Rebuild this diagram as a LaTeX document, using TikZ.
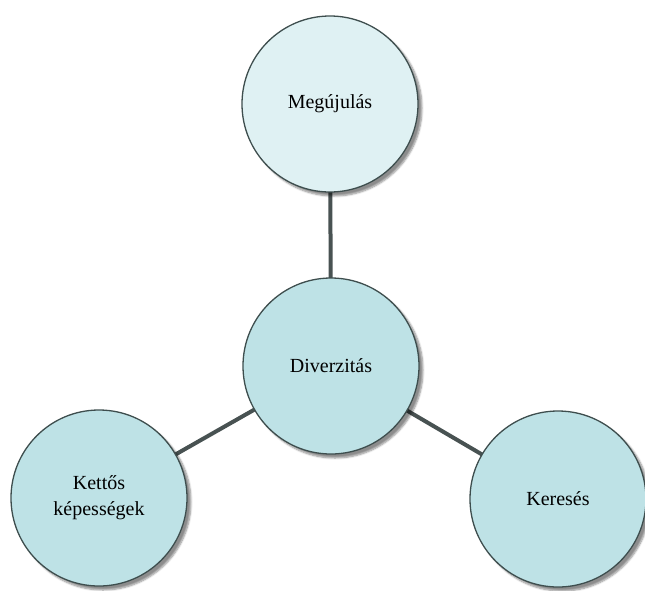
\documentclass[tikz,border=0pt]{standalone}
\usepackage{fontspec}
\setmainfont{Liberation Serif}
\usetikzlibrary{shadows.blur,backgrounds}
\definecolor{pale}{RGB}{223,241,243}
\definecolor{teal}{RGB}{190,226,230}
\definecolor{rim}{RGB}{62,78,78}
\definecolor{link}{RGB}{72,82,82}
\tikzset{
  bubble/.style={circle, draw=rim, line width=1.3pt, minimum size=176pt,
    inner sep=0pt, align=center, font=\fontsize{20}{26}\selectfont,
    blur shadow={shadow xshift=4pt, shadow yshift=-4pt, shadow blur steps=6, shadow opacity=45}},
  spoke/.style={draw=link, line width=4pt}
}
\begin{document}
\begin{tikzpicture}[x=1pt,y=-1pt]
  \useasboundingbox (0,0) rectangle (645,590);
  \node[bubble, fill=pale] (top) at (330,104) {Megújulás};
  \node[bubble, fill=teal] (mid) at (331,366) {Diverzitás};
  \node[bubble, fill=teal] (left) at (99,498) {Kettős\\képességek};
  \node[bubble, fill=teal] (right) at (558,499) {Keresés};
  \begin{pgfonlayer}{background}
    \path[spoke] (mid.center) -- (top.center);
    \path[spoke] (mid.center) -- (left.center);
    \path[spoke] (mid.center) -- (right.center);
  \end{pgfonlayer}
\end{tikzpicture}
\end{document}
